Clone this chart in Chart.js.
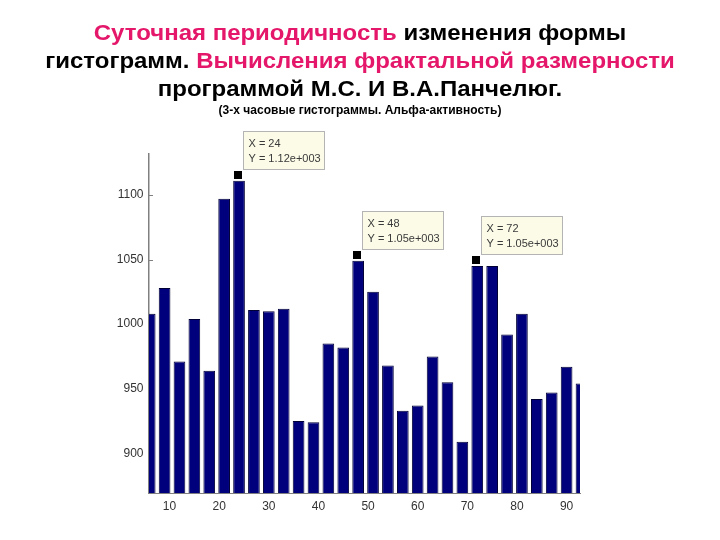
<!DOCTYPE html>
<html>
<head>
<meta charset="utf-8">
<script src="https://cdn.jsdelivr.net/npm/chart.js@4.4.1/dist/chart.umd.min.js"></script>
<style>
  body { margin: 0; background: #fff; }
  #wrap { position: relative; width: 720px; height: 540px; }
  #chart { position: absolute; left: 0; top: 0; }
  .t { position: absolute; left: 0; width: 720px; text-align: center;
       font-family: "Liberation Sans", Arial, sans-serif; font-weight: bold; color: #000; white-space: nowrap; }
  .big { font-size: 22.5px; line-height: 29px; transform: scaleX(1.066); transform-origin: 360px 0; }
  .small { font-size: 13px; line-height: 15px; transform: scaleX(0.925); transform-origin: 360px 0; }
  .pink { color: #e4176a; }
</style>
</head>
<body>
<div id="wrap">
  <canvas id="chart" width="720" height="540"></canvas>
  <div class="t big" style="top:17.5px"><span class="pink">Суточная периодичность</span> изменения формы</div>
  <div class="t big" style="top:45.5px">гистограмм. <span class="pink">Вычисления фрактальной размерности</span></div>
  <div class="t big" style="top:74px">программой М.С. И В.А.Панчелюг.</div>
  <div class="t small" style="top:102px">(3-х часовые гистограммы. Альфа-активность)</div>
</div>
<script>
// 3-hour bins (x) and histogram values (y)
const hours = [6, 9, 12, 15, 18, 21, 24, 27, 30, 33, 36, 39, 42, 45, 48,
               51, 54, 57, 60, 63, 66, 69, 72, 75, 78, 81, 84, 87, 90, 93];
const values = [1008, 1028, 971, 1004, 964, 1097, 1111, 1011, 1010, 1012, 925, 924, 985, 982, 1049,
                1025, 968, 933, 937, 975, 955, 909, 1045, 1045, 992, 1008, 942, 947, 967, 954];
const xTicks = [10, 20, 30, 40, 50, 60, 70, 80, 90];
const yTicks = [900, 950, 1000, 1050, 1100];

// data cursors shown on the picture
const cursorX = [24, 48, 72];
const cursorY = ['1.12e+003', '1.05e+003', '1.05e+003'];

// short inward tick marks on the y axis (MATLAB style)
const innerTicks = {
    id: 'innerTicks',
    beforeDatasetsDraw(chart) {
        const ctx = chart.ctx, ys = chart.scales.y;
        const left = chart.chartArea.left;
        ctx.save();
        ctx.strokeStyle = '#808080';
        ctx.lineWidth = 1;
        ys.ticks.forEach(t => {
            const y = Math.round(ys.getPixelForValue(t.value)) + 0.5;
            ctx.beginPath();
            ctx.moveTo(left, y);
            ctx.lineTo(left + 4, y);
            ctx.stroke();
        });
        ctx.restore();
    }
};

const dataTips = {
    id: 'dataTips',
    afterDatasetsDraw(chart) {
        const ctx = chart.ctx;
        const xs = chart.scales.x, ys = chart.scales.y;
        ctx.save();
        cursorX.forEach((cx, i) => {
            const v = values[hours.indexOf(cx)];
            const px = Math.round(xs.getPixelForValue(cx)) - 1;
            const py = Math.round(ys.getPixelForValue(v)) - 6;
            // marker
            ctx.fillStyle = '#fff';
            ctx.fillRect(px - 5, py - 5, 10, 10);
            ctx.fillStyle = '#000';
            ctx.fillRect(px - 4, py - 4, 8, 8);
            // box
            const bx = px + 5.5, by = py - 43.5, bw = 81, bh = 38;
            ctx.fillStyle = '#fcfbe8';
            ctx.fillRect(bx, by, bw, bh);
            ctx.strokeStyle = '#b4b4b4';
            ctx.lineWidth = 1;
            ctx.strokeRect(bx, by, bw, bh);
            ctx.fillStyle = '#3a3a3a';
            ctx.font = '11px "Liberation Sans", Arial, sans-serif';
            ctx.textBaseline = 'middle';
            ctx.textAlign = 'left';
            ctx.fillText('X = ' + cx, bx + 5, by + 12);
            ctx.fillText('Y = ' + cursorY[i], bx + 5, by + 27);
        });
        ctx.restore();
    }
};

new Chart(document.getElementById('chart'), {
    type: 'bar',
    data: {
        datasets: [{
            data: hours.map((h, i) => ({ x: h, y: values[i] })),
            backgroundColor: '#00007c',
            borderColor: '#000036',
            borderWidth: 1,
            barPercentage: 0.785,
            categoryPercentage: 1
        }]
    },
    options: {
        responsive: false,
        animation: false,
        layout: { padding: { left: 0, right: 140, top: 154, bottom: 0 } },
        plugins: { legend: { display: false }, tooltip: { enabled: false } },
        scales: {
            x: {
                type: 'linear',
                min: 5.86,
                max: 92.7,
                offset: false,
                grid: { display: false, offset: false, drawTicks: false },
                border: { display: true, color: '#808080' },
                afterBuildTicks: (axis) => { axis.ticks = xTicks.map(v => ({ value: v })); },
                afterFit: (axis) => { axis.height = 47; },
                ticks: { padding: 6, color: '#333', callback: (v) => String(v),
                         font: { family: '"Liberation Sans", Arial', size: 12 } }
            },
            y: {
                min: 869.3,
                max: 1131.7,
                grid: { display: false, drawTicks: false },
                border: { display: true, color: '#808080', width: 1.5 },
                afterBuildTicks: (axis) => { axis.ticks = yTicks.map(v => ({ value: v })); },
                afterFit: (axis) => { axis.width = 149; },
                ticks: { padding: 5.5, color: '#333', callback: (v) => String(v),
                         font: { family: '"Liberation Sans", Arial', size: 12 } }
            }
        }
    },
    plugins: [innerTicks, dataTips]
});
</script>
</body>
</html>
